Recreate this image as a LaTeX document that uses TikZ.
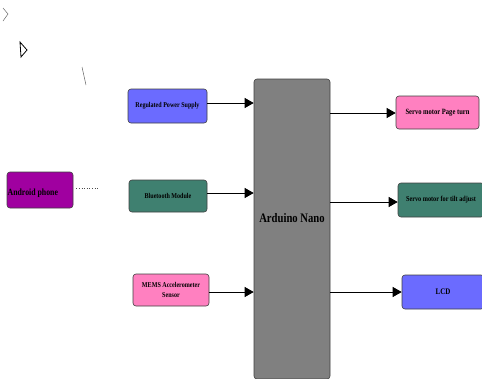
\documentclass[tikz,border=0pt]{standalone}
\usepackage{fontspec}
\setmainfont{Liberation Serif}[FakeStretch=0.82]
\usetikzlibrary{arrows.meta}
\definecolor{cblue}{HTML}{6B6BFF}
\definecolor{cteal}{HTML}{3F8070}
\definecolor{cpink}{HTML}{FF80C0}
\definecolor{cmag}{HTML}{A000A0}
\definecolor{cgray}{HTML}{808080}
\tikzset{
  blk/.style={draw=black!75, line width=0.6pt, rounded corners=3pt, inner sep=0pt, font=\bfseries\fontsize{7.4}{8.5}\selectfont, align=center},
  conn/.style={line width=0.9pt, -{Triangle[length=9pt,width=10pt]}},
  lbl/.style={inner sep=0pt, font=\bfseries\fontsize{7.4}{8.5}\selectfont}
}
\begin{document}
\begin{tikzpicture}[x=1pt,y=-1pt]
\useasboundingbox (0,0) rectangle (482,378);
% stray marks
\draw[black!60, line width=0.5pt] (3,8) -- (8,14) -- (3,21);
\draw[black, line width=0.8pt] (20,42) -- (27,50) -- (21,57) -- cycle;
\draw[black!60, line width=0.5pt] (82,67) -- (86,85);
% nodes
\node[blk, fill=cgray, minimum width=76pt, minimum height=300pt] (ard) at (292,229) {};
\node[lbl, font=\bfseries\fontsize{13}{15}\selectfont] (ardtxt) at (292,218) {Arduino Nano};
\node[blk, fill=cblue, minimum width=79pt, minimum height=34pt] (rps) at (167.5,106) {Regulated Power Supply};
\node[blk, fill=cteal, minimum width=78pt, minimum height=32pt] (bt) at (168,196) {Bluetooth Module};
\node[blk, fill=cpink, minimum width=76pt, minimum height=32pt] (mems) at (171,290) {MEMS Accelerometer\\[1pt]Sensor};
\node[blk, fill=cpink, minimum width=83pt, minimum height=33pt, font=\bfseries\fontsize{8}{9}\selectfont] (srv1) at (437.5,112.5) {Servo motor Page turn};
\node[blk, fill=cteal, minimum width=86pt, minimum height=34pt, font=\bfseries\fontsize{7.6}{9}\selectfont] (srv2) at (441,200) {Servo motor for tilt adjust};
\node[blk, fill=cblue, minimum width=82pt, minimum height=34pt, font=\bfseries\fontsize{8.5}{9}\selectfont] (lcd) at (443,292) {LCD};
\node[blk, fill=cmag, minimum width=66pt, minimum height=36pt] (and) at (40,190) {};
\node[lbl, anchor=west, font=\bfseries\fontsize{9.5}{10}\selectfont] (andtxt) at (7.5,193) {Android phone};
\coordinate (dotend) at (98,188);
% connectors
\draw[conn] (rps.east |- 0,103) -- (ard.west |- 0,103);
\draw[conn] (bt.east |- 0,193) -- (ard.west |- 0,193);
\draw[conn] (mems.east |- 0,292) -- (ard.west |- 0,292);
\draw[conn] (ard.east |- 0,113) -- (srv1.west |- 0,113);
\draw[conn] (ard.east |- 0,202) -- (srv2.west |- 0,202);
\draw[conn] (ard.east |- 0,292) -- (lcd.west |- 0,292);
\draw[black!70, line width=0.6pt, dotted] (and.east |- 0,188) ++(3,0) -- (dotend);
\end{tikzpicture}
\end{document}
